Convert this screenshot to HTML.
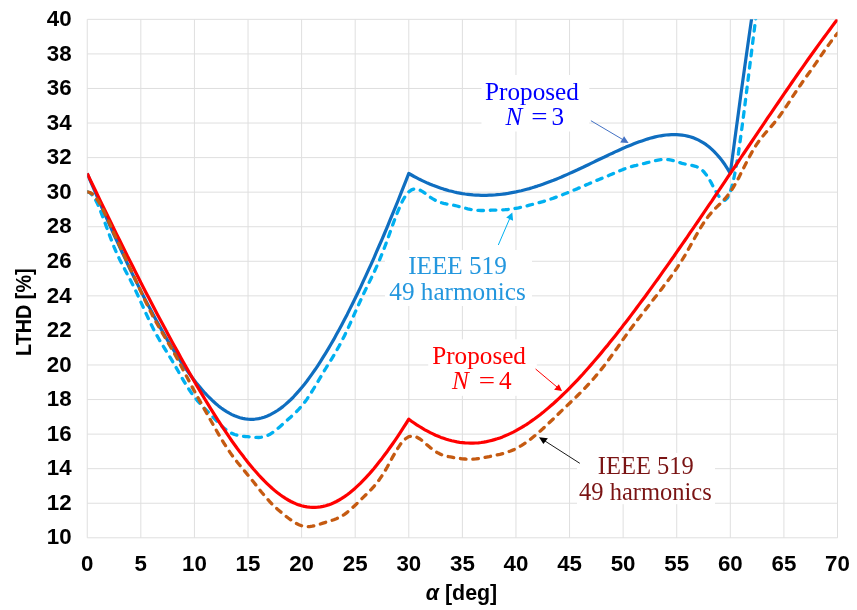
<!DOCTYPE html>
<html><head><meta charset="utf-8"><title>LTHD vs alpha</title>
<style>
html,body{margin:0;padding:0;background:#fff;}
svg{display:block;}
.ax text{font-family:"Liberation Sans",sans-serif;font-weight:bold;font-size:22.3px;fill:#000;}
.lab text{font-family:"Liberation Serif",serif;font-size:25.2px;}
.grid line{stroke:#dfdfdf;stroke-width:1;}
.cv path{fill:none;stroke-linejoin:round;}
.arr line{stroke-width:1;}
</style></head>
<body>
<svg width="857" height="610" viewBox="0 0 857 610">
<defs><clipPath id="cp"><rect x="87.25" y="19.35" width="750.25" height="518.45"/></clipPath></defs>
<rect width="857" height="610" fill="#fff"/>
<g class="grid">
<line x1="87.25" y1="19.35" x2="87.25" y2="537.80"/>
<line x1="140.84" y1="19.35" x2="140.84" y2="537.80"/>
<line x1="194.43" y1="19.35" x2="194.43" y2="537.80"/>
<line x1="248.02" y1="19.35" x2="248.02" y2="537.80"/>
<line x1="301.61" y1="19.35" x2="301.61" y2="537.80"/>
<line x1="355.20" y1="19.35" x2="355.20" y2="537.80"/>
<line x1="408.79" y1="19.35" x2="408.79" y2="537.80"/>
<line x1="462.38" y1="19.35" x2="462.38" y2="537.80"/>
<line x1="515.96" y1="19.35" x2="515.96" y2="537.80"/>
<line x1="569.55" y1="19.35" x2="569.55" y2="537.80"/>
<line x1="623.14" y1="19.35" x2="623.14" y2="537.80"/>
<line x1="676.73" y1="19.35" x2="676.73" y2="537.80"/>
<line x1="730.32" y1="19.35" x2="730.32" y2="537.80"/>
<line x1="783.91" y1="19.35" x2="783.91" y2="537.80"/>
<line x1="837.50" y1="19.35" x2="837.50" y2="537.80"/>
<line x1="87.25" y1="537.80" x2="837.50" y2="537.80"/>
<line x1="87.25" y1="503.24" x2="837.50" y2="503.24"/>
<line x1="87.25" y1="468.67" x2="837.50" y2="468.67"/>
<line x1="87.25" y1="434.11" x2="837.50" y2="434.11"/>
<line x1="87.25" y1="399.55" x2="837.50" y2="399.55"/>
<line x1="87.25" y1="364.98" x2="837.50" y2="364.98"/>
<line x1="87.25" y1="330.42" x2="837.50" y2="330.42"/>
<line x1="87.25" y1="295.86" x2="837.50" y2="295.86"/>
<line x1="87.25" y1="261.29" x2="837.50" y2="261.29"/>
<line x1="87.25" y1="226.73" x2="837.50" y2="226.73"/>
<line x1="87.25" y1="192.17" x2="837.50" y2="192.17"/>
<line x1="87.25" y1="157.60" x2="837.50" y2="157.60"/>
<line x1="87.25" y1="123.04" x2="837.50" y2="123.04"/>
<line x1="87.25" y1="88.48" x2="837.50" y2="88.48"/>
<line x1="87.25" y1="53.91" x2="837.50" y2="53.91"/>
<line x1="87.25" y1="19.35" x2="837.50" y2="19.35"/>
</g>
<g class="cv" clip-path="url(#cp)">
<path d="M87.2,173.4 L89.9,179.8 L92.6,186.1 L95.3,192.3 L98.0,198.5 L100.6,204.7 L103.3,210.8 L106.0,216.8 L108.7,222.9 L111.4,228.8 L114.0,234.8 L116.7,240.6 L119.4,246.4 L122.1,252.2 L124.8,257.9 L127.4,263.6 L130.1,269.2 L132.8,274.7 L135.5,280.2 L138.2,285.6 L140.8,290.9 L143.5,296.2 L146.2,301.4 L148.9,306.6 L151.6,311.6 L154.2,316.6 L156.9,321.6 L159.6,326.4 L162.3,331.1 L165.0,335.8 L167.6,340.4 L170.3,344.9 L173.0,349.2 L175.7,353.5 L178.4,357.7 L181.0,361.8 L183.7,365.8 L186.4,369.6 L189.1,373.4 L191.7,377.0 L194.4,380.5 L197.1,383.9 L199.8,387.1 L202.5,390.2 L205.1,393.2 L207.8,396.0 L210.5,398.7 L213.2,401.3 L215.9,403.7 L218.5,405.9 L221.2,408.0 L223.9,409.9 L226.6,411.6 L229.3,413.2 L231.9,414.6 L234.6,415.8 L237.3,416.8 L240.0,417.7 L242.7,418.4 L245.3,418.9 L248.0,419.2 L250.7,419.3 L253.4,419.3 L256.1,419.0 L258.7,418.6 L261.4,418.0 L264.1,417.2 L266.8,416.2 L269.5,415.1 L272.1,413.7 L274.8,412.2 L277.5,410.5 L280.2,408.6 L282.9,406.6 L285.5,404.4 L288.2,402.0 L290.9,399.5 L293.6,396.8 L296.2,393.9 L298.9,390.9 L301.6,387.7 L304.3,384.4 L307.0,381.0 L309.6,377.4 L312.3,373.6 L315.0,369.8 L317.7,365.8 L320.4,361.7 L323.0,357.4 L325.7,353.1 L328.4,348.6 L331.1,344.0 L333.8,339.4 L336.4,334.6 L339.1,329.7 L341.8,324.7 L344.5,319.6 L347.2,314.4 L349.8,309.1 L352.5,303.7 L355.2,298.3 L357.9,292.7 L360.6,287.1 L363.2,281.4 L365.9,275.6 L368.6,269.7 L371.3,263.8 L374.0,257.8 L376.6,251.7 L379.3,245.5 L382.0,239.3 L384.7,233.0 L387.4,226.6 L390.0,220.2 L392.7,213.7 L395.4,207.2 L398.1,200.5 L400.7,193.8 L403.4,187.1 L406.1,180.3 L408.8,173.4 L411.5,175.0 L414.1,176.5 L416.8,177.9 L419.5,179.3 L422.2,180.6 L424.9,181.9 L427.5,183.1 L430.2,184.2 L432.9,185.3 L435.6,186.3 L438.3,187.3 L440.9,188.2 L443.6,189.1 L446.3,189.9 L449.0,190.7 L451.7,191.3 L454.3,192.0 L457.0,192.6 L459.7,193.1 L462.4,193.6 L465.1,194.0 L467.7,194.3 L470.4,194.6 L473.1,194.9 L475.8,195.1 L478.5,195.2 L481.1,195.3 L483.8,195.3 L486.5,195.3 L489.2,195.2 L491.8,195.1 L494.5,195.0 L497.2,194.7 L499.9,194.5 L502.6,194.2 L505.2,193.8 L507.9,193.4 L510.6,192.9 L513.3,192.4 L516.0,191.9 L518.6,191.3 L521.3,190.7 L524.0,190.0 L526.7,189.3 L529.4,188.6 L532.0,187.8 L534.7,186.9 L537.4,186.1 L540.1,185.2 L542.8,184.3 L545.4,183.3 L548.1,182.3 L550.8,181.3 L553.5,180.3 L556.2,179.2 L558.8,178.1 L561.5,177.0 L564.2,175.8 L566.9,174.6 L569.6,173.4 L572.2,172.2 L574.9,171.0 L577.6,169.8 L580.3,168.5 L583.0,167.3 L585.6,166.0 L588.3,164.7 L591.0,163.4 L593.7,162.1 L596.3,160.8 L599.0,159.5 L601.7,158.2 L604.4,157.0 L607.1,155.7 L609.7,154.4 L612.4,153.2 L615.1,151.9 L617.8,150.7 L620.5,149.5 L623.1,148.3 L625.8,147.1 L628.5,146.0 L631.2,144.9 L633.9,143.8 L636.5,142.8 L639.2,141.8 L641.9,140.9 L644.6,140.0 L647.3,139.1 L649.9,138.3 L652.6,137.6 L655.3,136.9 L658.0,136.3 L660.7,135.8 L663.3,135.4 L666.0,135.0 L668.7,134.8 L671.4,134.6 L674.1,134.6 L676.7,134.6 L679.4,134.8 L682.1,135.1 L684.8,135.5 L687.5,136.1 L690.1,136.8 L692.8,137.6 L695.5,138.7 L698.2,139.9 L700.8,141.3 L703.5,142.9 L706.2,144.7 L708.9,146.8 L711.6,149.1 L714.2,151.6 L716.9,154.5 L719.6,157.6 L722.3,161.0 L725.0,164.8 L727.6,168.9 L730.3,173.4 L733.0,153.0 L735.7,132.8 L738.4,113.0 L741.0,93.5 L743.7,74.2 L746.4,55.0 L749.1,36.1 L751.8,17.3 L754.4,-1.3 L757.1,-19.9 L759.8,-38.3 L762.5,-56.7 L765.2,-75.0" stroke="#0f6ec0" stroke-width="3.2"/>
<path d="M87.2,191.9 L89.9,192.8 L92.6,195.3 L95.3,199.4 L98.0,204.8 L100.6,211.2 L103.3,218.2 L106.0,225.6 L108.7,233.0 L111.4,240.1 L114.0,246.8 L116.7,253.1 L119.4,258.9 L122.1,264.2 L124.8,269.4 L127.4,274.4 L130.1,279.5 L132.8,284.8 L135.5,290.3 L138.2,296.0 L140.8,301.9 L143.5,307.9 L146.2,313.9 L148.9,319.7 L151.6,325.3 L154.2,330.5 L156.9,335.5 L159.6,340.2 L162.3,344.7 L165.0,349.0 L167.6,353.3 L170.3,357.7 L173.0,362.2 L175.7,366.8 L178.4,371.5 L181.0,376.2 L183.7,380.8 L186.4,385.3 L189.1,389.5 L191.7,393.4 L194.4,397.0 L197.1,400.3 L199.8,403.3 L202.5,406.2 L205.1,409.0 L207.8,411.7 L210.5,414.5 L213.2,417.3 L215.9,420.1 L218.5,422.9 L221.2,425.6 L223.9,428.0 L226.6,430.2 L229.3,432.0 L231.9,433.4 L234.6,434.5 L237.3,435.2 L240.0,435.8 L242.7,436.2 L245.3,436.5 L248.0,436.7 L250.7,437.0 L253.4,437.3 L256.1,437.4 L258.7,437.5 L261.4,437.2 L264.1,436.7 L266.8,435.8 L269.5,434.6 L272.1,432.9 L274.8,431.0 L277.5,428.8 L280.2,426.5 L282.9,424.1 L285.5,421.7 L288.2,419.3 L290.9,416.9 L293.6,414.4 L296.2,411.9 L298.9,409.1 L301.6,406.1 L304.3,402.8 L307.0,399.1 L309.6,395.1 L312.3,390.9 L315.0,386.5 L317.7,382.0 L320.4,377.4 L323.0,372.9 L325.7,368.5 L328.4,364.1 L331.1,359.8 L333.8,355.4 L336.4,350.8 L339.1,346.1 L341.8,341.0 L344.5,335.7 L347.2,330.1 L349.8,324.3 L352.5,318.3 L355.2,312.2 L357.9,306.2 L360.6,300.3 L363.2,294.6 L365.9,289.0 L368.6,283.5 L371.3,278.0 L374.0,272.4 L376.6,266.6 L379.3,260.5 L382.0,253.9 L384.7,247.0 L387.4,239.8 L390.0,232.4 L392.7,224.9 L395.4,217.6 L398.1,210.8 L400.7,204.6 L403.4,199.3 L406.1,195.0 L408.8,191.9 L411.5,189.9 L414.1,189.0 L416.8,189.1 L419.5,189.9 L422.2,191.4 L424.9,193.2 L427.5,195.2 L430.2,197.2 L432.9,198.9 L435.6,200.4 L438.3,201.7 L440.9,202.6 L443.6,203.3 L446.3,203.9 L449.0,204.4 L451.7,204.8 L454.3,205.4 L457.0,206.0 L459.7,206.7 L462.4,207.4 L465.1,208.1 L467.7,208.8 L470.4,209.4 L473.1,209.9 L475.8,210.2 L478.5,210.4 L481.1,210.5 L483.8,210.5 L486.5,210.4 L489.2,210.3 L491.8,210.2 L494.5,210.1 L497.2,210.0 L499.9,209.9 L502.6,209.8 L505.2,209.7 L507.9,209.5 L510.6,209.2 L513.3,208.8 L516.0,208.3 L518.6,207.8 L521.3,207.2 L524.0,206.6 L526.7,205.9 L529.4,205.2 L532.0,204.5 L534.7,203.8 L537.4,203.1 L540.1,202.3 L542.8,201.6 L545.4,200.8 L548.1,199.9 L550.8,199.0 L553.5,198.1 L556.2,197.1 L558.8,196.1 L561.5,195.1 L564.2,194.0 L566.9,193.0 L569.6,191.9 L572.2,190.8 L574.9,189.7 L577.6,188.6 L580.3,187.4 L583.0,186.3 L585.6,185.1 L588.3,184.0 L591.0,182.8 L593.7,181.7 L596.3,180.6 L599.0,179.5 L601.7,178.4 L604.4,177.3 L607.1,176.2 L609.7,175.1 L612.4,173.9 L615.1,172.8 L617.8,171.6 L620.5,170.5 L623.1,169.4 L625.8,168.4 L628.5,167.5 L631.2,166.7 L633.9,165.9 L636.5,165.3 L639.2,164.6 L641.9,164.0 L644.6,163.4 L647.3,162.7 L649.9,162.0 L652.6,161.3 L655.3,160.7 L658.0,160.1 L660.7,159.7 L663.3,159.4 L666.0,159.4 L668.7,159.7 L671.4,160.2 L674.1,160.9 L676.7,161.7 L679.4,162.5 L682.1,163.3 L684.8,164.0 L687.5,164.5 L690.1,165.0 L692.8,165.6 L695.5,166.3 L698.2,167.4 L700.8,169.0 L703.5,171.4 L706.2,174.7 L708.9,178.7 L711.6,183.4 L714.2,188.4 L716.9,193.3 L719.6,197.4 L722.3,200.0 L725.0,200.3 L727.6,197.8 L730.3,191.9 L733.0,182.4 L735.7,169.4 L738.4,153.4 L741.0,134.8 L743.7,114.4 L746.4,93.0 L749.1,71.3 L751.8,49.8 L754.4,28.9 L757.1,8.9 L759.8,-10.1 L762.5,-28.3 L765.2,-45.8 L767.8,-63.0 L770.5,-80.1" stroke="#00b0f0" stroke-width="3.3" stroke-dasharray="5.6 6.8" stroke-linecap="round"/>
<path d="M87.2,173.4 L89.9,179.1 L92.6,184.7 L95.3,190.3 L98.0,195.9 L100.6,201.4 L103.3,207.0 L106.0,212.5 L108.7,218.0 L111.4,223.5 L114.0,229.0 L116.7,234.4 L119.4,239.8 L122.1,245.2 L124.8,250.6 L127.4,256.0 L130.1,261.3 L132.8,266.6 L135.5,271.9 L138.2,277.2 L140.8,282.5 L143.5,287.7 L146.2,292.9 L148.9,298.1 L151.6,303.2 L154.2,308.3 L156.9,313.4 L159.6,318.5 L162.3,323.5 L165.0,328.5 L167.6,333.5 L170.3,338.5 L173.0,343.4 L175.7,348.3 L178.4,353.1 L181.0,357.9 L183.7,362.7 L186.4,367.5 L189.1,372.2 L191.7,376.8 L194.4,381.5 L197.1,386.1 L199.8,390.6 L202.5,395.1 L205.1,399.5 L207.8,403.9 L210.5,408.3 L213.2,412.6 L215.9,416.8 L218.5,421.0 L221.2,425.1 L223.9,429.2 L226.6,433.2 L229.3,437.1 L231.9,441.0 L234.6,444.7 L237.3,448.5 L240.0,452.1 L242.7,455.6 L245.3,459.1 L248.0,462.5 L250.7,465.8 L253.4,469.0 L256.1,472.0 L258.7,475.0 L261.4,477.9 L264.1,480.7 L266.8,483.3 L269.5,485.9 L272.1,488.3 L274.8,490.6 L277.5,492.8 L280.2,494.8 L282.9,496.7 L285.5,498.4 L288.2,500.0 L290.9,501.5 L293.6,502.8 L296.2,503.9 L298.9,504.9 L301.6,505.7 L304.3,506.4 L307.0,506.9 L309.6,507.2 L312.3,507.4 L315.0,507.4 L317.7,507.2 L320.4,506.9 L323.0,506.4 L325.7,505.7 L328.4,504.9 L331.1,503.9 L333.8,502.8 L336.4,501.5 L339.1,500.0 L341.8,498.4 L344.5,496.6 L347.2,494.7 L349.8,492.7 L352.5,490.5 L355.2,488.2 L357.9,485.7 L360.6,483.1 L363.2,480.4 L365.9,477.6 L368.6,474.7 L371.3,471.6 L374.0,468.5 L376.6,465.2 L379.3,461.8 L382.0,458.4 L384.7,454.8 L387.4,451.2 L390.0,447.5 L392.7,443.7 L395.4,439.8 L398.1,435.8 L400.7,431.8 L403.4,427.6 L406.1,423.5 L408.8,419.2 L411.5,421.2 L414.1,423.0 L416.8,424.8 L419.5,426.5 L422.2,428.2 L424.9,429.8 L427.5,431.2 L430.2,432.6 L432.9,433.9 L435.6,435.2 L438.3,436.3 L440.9,437.4 L443.6,438.3 L446.3,439.2 L449.0,440.0 L451.7,440.7 L454.3,441.3 L457.0,441.9 L459.7,442.3 L462.4,442.6 L465.1,442.9 L467.7,443.0 L470.4,443.1 L473.1,443.1 L475.8,443.0 L478.5,442.8 L481.1,442.5 L483.8,442.1 L486.5,441.6 L489.2,441.0 L491.8,440.4 L494.5,439.6 L497.2,438.8 L499.9,437.9 L502.6,436.9 L505.2,435.8 L507.9,434.6 L510.6,433.4 L513.3,432.1 L516.0,430.7 L518.6,429.2 L521.3,427.6 L524.0,426.0 L526.7,424.3 L529.4,422.5 L532.0,420.6 L534.7,418.7 L537.4,416.7 L540.1,414.7 L542.8,412.6 L545.4,410.4 L548.1,408.1 L550.8,405.8 L553.5,403.5 L556.2,401.0 L558.8,398.6 L561.5,396.0 L564.2,393.4 L566.9,390.8 L569.6,388.1 L572.2,385.4 L574.9,382.6 L577.6,379.8 L580.3,376.9 L583.0,374.0 L585.6,371.0 L588.3,368.0 L591.0,364.9 L593.7,361.8 L596.3,358.7 L599.0,355.6 L601.7,352.4 L604.4,349.1 L607.1,345.9 L609.7,342.6 L612.4,339.2 L615.1,335.9 L617.8,332.5 L620.5,329.1 L623.1,325.6 L625.8,322.2 L628.5,318.7 L631.2,315.1 L633.9,311.6 L636.5,308.0 L639.2,304.4 L641.9,300.8 L644.6,297.2 L647.3,293.5 L649.9,289.8 L652.6,286.1 L655.3,282.4 L658.0,278.7 L660.7,274.9 L663.3,271.2 L666.0,267.4 L668.7,263.6 L671.4,259.8 L674.1,256.0 L676.7,252.1 L679.4,248.3 L682.1,244.4 L684.8,240.5 L687.5,236.6 L690.1,232.7 L692.8,228.8 L695.5,224.9 L698.2,221.0 L700.8,217.1 L703.5,213.1 L706.2,209.2 L708.9,205.2 L711.6,201.3 L714.2,197.3 L716.9,193.3 L719.6,189.4 L722.3,185.4 L725.0,181.4 L727.6,177.4 L730.3,173.4 L733.0,169.5 L735.7,165.5 L738.4,161.5 L741.0,157.5 L743.7,153.5 L746.4,149.5 L749.1,145.5 L751.8,141.5 L754.4,137.6 L757.1,133.6 L759.8,129.6 L762.5,125.7 L765.2,121.7 L767.8,117.7 L770.5,113.8 L773.2,109.8 L775.9,105.9 L778.6,102.0 L781.2,98.1 L783.9,94.1 L786.6,90.3 L789.3,86.4 L791.9,82.5 L794.6,78.6 L797.3,74.8 L800.0,70.9 L802.7,67.1 L805.3,63.3 L808.0,59.5 L810.7,55.8 L813.4,52.0 L816.1,48.3 L818.7,44.6 L821.4,40.9 L824.1,37.2 L826.8,33.6 L829.5,30.0 L832.1,26.4 L834.8,22.8 L837.5,19.3" stroke="#ff0000" stroke-width="3.2"/>
<path d="M87.2,191.9 L89.9,192.5 L92.6,194.2 L95.3,197.0 L98.0,200.7 L100.6,205.1 L103.3,210.2 L106.0,215.8 L108.7,221.6 L111.4,227.5 L114.0,233.5 L116.7,239.4 L119.4,245.3 L122.1,251.1 L124.8,256.8 L127.4,262.5 L130.1,268.2 L132.8,274.0 L135.5,279.8 L138.2,285.6 L140.8,291.4 L143.5,297.2 L146.2,302.8 L148.9,308.3 L151.6,313.6 L154.2,318.6 L156.9,323.5 L159.6,328.2 L162.3,332.8 L165.0,337.3 L167.6,341.8 L170.3,346.4 L173.0,351.1 L175.7,355.9 L178.4,360.8 L181.0,365.8 L183.7,370.9 L186.4,376.0 L189.1,381.1 L191.7,386.1 L194.4,391.1 L197.1,396.0 L199.8,400.9 L202.5,405.7 L205.1,410.4 L207.8,415.2 L210.5,420.0 L213.2,424.8 L215.9,429.5 L218.5,434.1 L221.2,438.7 L223.9,443.1 L226.6,447.3 L229.3,451.3 L231.9,455.1 L234.6,458.7 L237.3,462.2 L240.0,465.5 L242.7,468.7 L245.3,471.9 L248.0,475.2 L250.7,478.5 L253.4,481.8 L256.1,485.2 L258.7,488.6 L261.4,492.0 L264.1,495.2 L266.8,498.3 L269.5,501.3 L272.1,504.1 L274.8,506.7 L277.5,509.2 L280.2,511.5 L282.9,513.7 L285.5,515.9 L288.2,518.0 L290.9,519.9 L293.6,521.7 L296.2,523.4 L298.9,524.7 L301.6,525.7 L304.3,526.4 L307.0,526.7 L309.6,526.6 L312.3,526.2 L315.0,525.6 L317.7,524.9 L320.4,524.0 L323.0,523.1 L325.7,522.3 L328.4,521.4 L331.1,520.6 L333.8,519.7 L336.4,518.7 L339.1,517.5 L341.8,516.0 L344.5,514.3 L347.2,512.3 L349.8,510.1 L352.5,507.7 L355.2,505.2 L357.9,502.6 L360.6,500.0 L363.2,497.4 L365.9,494.8 L368.6,492.1 L371.3,489.4 L374.0,486.4 L376.6,483.2 L379.3,479.7 L382.0,475.7 L384.7,471.4 L387.4,466.7 L390.0,461.8 L392.7,456.9 L395.4,452.2 L398.1,447.8 L400.7,443.9 L403.4,440.7 L406.1,438.3 L408.8,436.7 L411.5,436.1 L414.1,436.3 L416.8,437.2 L419.5,438.7 L422.2,440.7 L424.9,443.0 L427.5,445.3 L430.2,447.6 L432.9,449.7 L435.6,451.6 L438.3,453.1 L440.9,454.4 L443.6,455.4 L446.3,456.1 L449.0,456.7 L451.7,457.2 L454.3,457.7 L457.0,458.1 L459.7,458.4 L462.4,458.8 L465.1,459.0 L467.7,459.2 L470.4,459.2 L473.1,459.1 L475.8,458.9 L478.5,458.6 L481.1,458.2 L483.8,457.7 L486.5,457.1 L489.2,456.6 L491.8,456.0 L494.5,455.4 L497.2,454.9 L499.9,454.3 L502.6,453.6 L505.2,452.9 L507.9,452.0 L510.6,451.0 L513.3,449.9 L516.0,448.6 L518.6,447.2 L521.3,445.6 L524.0,443.9 L526.7,442.0 L529.4,440.1 L532.0,438.0 L534.7,435.8 L537.4,433.5 L540.1,431.2 L542.8,428.8 L545.4,426.3 L548.1,423.8 L550.8,421.3 L553.5,418.7 L556.2,416.1 L558.8,413.5 L561.5,410.9 L564.2,408.4 L566.9,405.8 L569.6,403.2 L572.2,400.7 L574.9,398.1 L577.6,395.5 L580.3,392.8 L583.0,390.1 L585.6,387.3 L588.3,384.5 L591.0,381.6 L593.7,378.5 L596.3,375.4 L599.0,372.2 L601.7,368.9 L604.4,365.5 L607.1,362.0 L609.7,358.3 L612.4,354.6 L615.1,350.9 L617.8,347.1 L620.5,343.2 L623.1,339.4 L625.8,335.6 L628.5,331.9 L631.2,328.3 L633.9,324.7 L636.5,321.1 L639.2,317.7 L641.9,314.2 L644.6,310.8 L647.3,307.4 L649.9,304.0 L652.6,300.6 L655.3,297.1 L658.0,293.7 L660.7,290.2 L663.3,286.7 L666.0,283.1 L668.7,279.6 L671.4,275.9 L674.1,272.2 L676.7,268.3 L679.4,264.2 L682.1,260.0 L684.8,255.6 L687.5,250.9 L690.1,246.2 L692.8,241.4 L695.5,236.5 L698.2,231.8 L700.8,227.3 L703.5,223.1 L706.2,219.1 L708.9,215.6 L711.6,212.4 L714.2,209.5 L716.9,206.9 L719.6,204.3 L722.3,201.6 L725.0,198.7 L727.6,195.5 L730.3,191.9 L733.0,187.8 L735.7,183.3 L738.4,178.4 L741.0,173.2 L743.7,167.8 L746.4,162.5 L749.1,157.3 L751.8,152.4 L754.4,147.9 L757.1,143.7 L759.8,140.0 L762.5,136.5 L765.2,133.3 L767.8,130.3 L770.5,127.3 L773.2,124.1 L775.9,120.9 L778.6,117.4 L781.2,113.8 L783.9,109.9 L786.6,105.9 L789.3,101.8 L791.9,97.7 L794.6,93.6 L797.3,89.6 L800.0,85.7 L802.7,81.8 L805.3,78.1 L808.0,74.3 L810.7,70.6 L813.4,66.8 L816.1,62.9 L818.7,59.1 L821.4,55.1 L824.1,51.2 L826.8,47.4 L829.5,43.6 L832.1,40.0 L834.8,36.6 L837.5,33.3" stroke="#c55a11" stroke-width="3.3" stroke-dasharray="5.6 6.8" stroke-linecap="round"/>
</g>
<g class="ax">
<text x="87.2" y="570.5" text-anchor="middle">0</text>
<text x="140.8" y="570.5" text-anchor="middle">5</text>
<text x="194.4" y="570.5" text-anchor="middle">10</text>
<text x="248.0" y="570.5" text-anchor="middle">15</text>
<text x="301.6" y="570.5" text-anchor="middle">20</text>
<text x="355.2" y="570.5" text-anchor="middle">25</text>
<text x="408.8" y="570.5" text-anchor="middle">30</text>
<text x="462.4" y="570.5" text-anchor="middle">35</text>
<text x="516.0" y="570.5" text-anchor="middle">40</text>
<text x="569.6" y="570.5" text-anchor="middle">45</text>
<text x="623.1" y="570.5" text-anchor="middle">50</text>
<text x="676.7" y="570.5" text-anchor="middle">55</text>
<text x="730.3" y="570.5" text-anchor="middle">60</text>
<text x="783.9" y="570.5" text-anchor="middle">65</text>
<text x="837.5" y="570.5" text-anchor="middle">70</text>
<text x="71.6" y="544.4" text-anchor="end">10</text>
<text x="71.6" y="509.8" text-anchor="end">12</text>
<text x="71.6" y="475.3" text-anchor="end">14</text>
<text x="71.6" y="440.7" text-anchor="end">16</text>
<text x="71.6" y="406.1" text-anchor="end">18</text>
<text x="71.6" y="371.6" text-anchor="end">20</text>
<text x="71.6" y="337.0" text-anchor="end">22</text>
<text x="71.6" y="302.5" text-anchor="end">24</text>
<text x="71.6" y="267.9" text-anchor="end">26</text>
<text x="71.6" y="233.3" text-anchor="end">28</text>
<text x="71.6" y="198.8" text-anchor="end">30</text>
<text x="71.6" y="164.2" text-anchor="end">32</text>
<text x="71.6" y="129.6" text-anchor="end">34</text>
<text x="71.6" y="95.1" text-anchor="end">36</text>
<text x="71.6" y="60.5" text-anchor="end">38</text>
<text x="71.6" y="26.0" text-anchor="end">40</text>
<text x="461.5" y="599.5" text-anchor="middle" style="font-size:21.4px"><tspan font-style="italic">α</tspan> [deg]</text>
<text transform="translate(30.7,312.2) rotate(-90)" text-anchor="middle" style="font-size:21.4px" textLength="87.6" lengthAdjust="spacingAndGlyphs">LTHD [%]</text>
</g>
<g class="lab">
<rect x="481.5" y="75" width="107.8" height="56.5" fill="#fff"/>
<text x="532" y="100.2" text-anchor="middle" fill="#0000ff">Proposed</text>
<text y="125.3" fill="#0000ff"><tspan x="505.6" font-style="italic">N</tspan> <tspan x="531.3" textLength="16.3" lengthAdjust="spacingAndGlyphs">=</tspan> <tspan x="551.5">3</tspan></text>
<rect x="385" y="250" width="147" height="56" fill="#fff"/>
<text x="457.5" y="274.3" text-anchor="middle" fill="#2497de">IEEE 519</text>
<text x="457.5" y="300" text-anchor="middle" fill="#2497de">49 harmonics</text>
<rect x="428.2" y="339.3" width="108.6" height="56.5" fill="#fff"/>
<text x="479.1" y="364" text-anchor="middle" fill="#ff0000">Proposed</text>
<text y="389.2" fill="#ff0000"><tspan x="452.1" font-style="italic">N</tspan> <tspan x="478.8" textLength="16.3" lengthAdjust="spacingAndGlyphs">=</tspan> <tspan x="499">4</tspan></text>
<rect x="577" y="453" width="138" height="51.2" fill="#fff"/>
<text x="645.8" y="473.5" text-anchor="middle" fill="#7a1414" style="font-size:24.5px">IEEE 519</text>
<text x="645.4" y="500.3" text-anchor="middle" fill="#7a1414" style="font-size:24.5px">49 harmonics</text>
</g>
<g class="arr">
<line x1="590.9" y1="120.7" x2="623" y2="139.7" stroke="#4472c4"/>
<polygon points="628.6,143 624.1,136.2 620.2,142.5" fill="#4472c4"/>
<line x1="498.3" y1="245" x2="509.5" y2="219" stroke="#00b0f0"/>
<polygon points="512.3,212.5 506.2,217.6 513.1,220.8" fill="#00b0f0"/>
<line x1="535.6" y1="369" x2="557" y2="387" stroke="#ff0000"/>
<polygon points="562,391.1 558.9,384.3 554.1,389.7" fill="#ff0000"/>
<line x1="579.8" y1="463.3" x2="545" y2="441" stroke="#1a1a1a"/>
<polygon points="539,437.2 547.9,438.2 543.4,444.1" fill="#000"/>
</g>
</svg>
</body></html>
